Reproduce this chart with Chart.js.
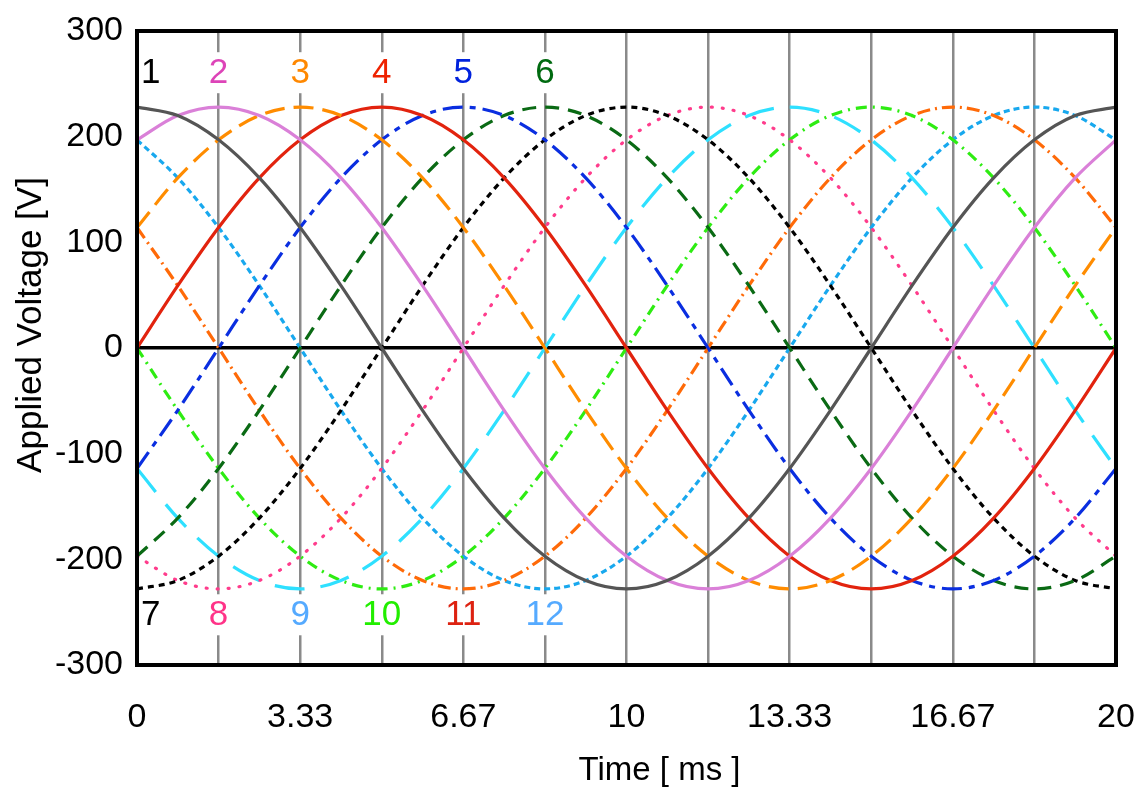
<!DOCTYPE html>
<html lang="en">
<head>
<meta charset="UTF-8">
<title>Applied Voltage - 12 phases</title>
<script src="https://cdn.jsdelivr.net/npm/chart.js@4.4.1/dist/chart.umd.min.js"></script>
<style>
    body { margin: 0; background: #fff; }
    canvas { display: block; }
</style>
</head>
<body>
<canvas id="voltChart" width="1145" height="794"></canvas>
<script>
// sample times [ms], one every 15 deg of the 20 ms cycle
const times = [0, 0.833, 1.667, 2.5, 3.333, 4.167, 5, 5.833, 6.667, 7.5, 8.333, 9.167, 10,
               10.833, 11.667, 12.5, 13.333, 14.167, 15, 15.833, 16.667, 17.5, 18.333, 19.167, 20];

// vertical grid lines and their labels
const gridTimes = [0, 1.667, 3.333, 5, 6.667, 8.333, 10, 11.667, 13.333, 15, 16.667, 18.333, 20];
const gridLabels = ['0', '', '3.33', '', '6.67', '', '10', '', '13.33', '', '16.67', '', '20'];

// voltages [V]
const phase1  = [228, 220, 197, 161, 114, 59, 0, -59, -114, -161, -197, -220, -228, -220, -197, -161, -114, -59, 0, 59, 114, 161, 197, 220, 228];
const phase2  = [197, 220, 228, 220, 197, 161, 114, 59, 0, -59, -114, -161, -197, -220, -228, -220, -197, -161, -114, -59, 0, 59, 114, 161, 197];
const phase3  = [114, 161, 197, 220, 228, 220, 197, 161, 114, 59, 0, -59, -114, -161, -197, -220, -228, -220, -197, -161, -114, -59, 0, 59, 114];
const phase4  = [0, 59, 114, 161, 197, 220, 228, 220, 197, 161, 114, 59, 0, -59, -114, -161, -197, -220, -228, -220, -197, -161, -114, -59, 0];
const phase5  = [-114, -59, 0, 59, 114, 161, 197, 220, 228, 220, 197, 161, 114, 59, 0, -59, -114, -161, -197, -220, -228, -220, -197, -161, -114];
const phase6  = [-197, -161, -114, -59, 0, 59, 114, 161, 197, 220, 228, 220, 197, 161, 114, 59, 0, -59, -114, -161, -197, -220, -228, -220, -197];
const phase7  = [-228, -220, -197, -161, -114, -59, 0, 59, 114, 161, 197, 220, 228, 220, 197, 161, 114, 59, 0, -59, -114, -161, -197, -220, -228];
const phase8  = [-197, -220, -228, -220, -197, -161, -114, -59, 0, 59, 114, 161, 197, 220, 228, 220, 197, 161, 114, 59, 0, -59, -114, -161, -197];
const phase9  = [-114, -161, -197, -220, -228, -220, -197, -161, -114, -59, 0, 59, 114, 161, 197, 220, 228, 220, 197, 161, 114, 59, 0, -59, -114];
const phase10 = [0, -59, -114, -161, -197, -220, -228, -220, -197, -161, -114, -59, 0, 59, 114, 161, 197, 220, 228, 220, 197, 161, 114, 59, 0];
const phase11 = [114, 59, 0, -59, -114, -161, -197, -220, -228, -220, -197, -161, -114, -59, 0, 59, 114, 161, 197, 220, 228, 220, 197, 161, 114];
const phase12 = [197, 161, 114, 59, 0, -59, -114, -161, -197, -220, -228, -220, -197, -161, -114, -59, 0, 59, 114, 161, 197, 220, 228, 220, 197];

// number markers: peaks (1-6) on top, troughs (7-12) at the bottom
const markerNames = ['1', '2', '3', '4', '5', '6', '7', '8', '9', '10', '11', '12'];
const markerTimes = [0, 1.667, 3.333, 5, 6.667, 8.333, 0, 1.667, 3.333, 5, 6.667, 8.333];
const markerVolts = [261, 261, 261, 261, 261, 261, -252, -252, -252, -252, -252, -252];

const xTitle = 'Time [ ms ]';
const yTitle = 'Applied Voltage [V]';

const FONT = '"Liberation Sans", Arial, sans-serif';

const allPhases = [phase1, phase2, phase3, phase4, phase5, phase6,
                   phase7, phase8, phase9, phase10, phase11, phase12];
const lineColors = ['#555555', '#da80d8', '#ff8c00', '#e2230e', '#0a2ee0', '#0a6a14',
                    '#000000', '#ff3c8c', '#2ee0ff', '#2eec12', '#ff6a08', '#18a8ee'];
const lineDashes = [[], [], [20, 9], [], [20, 7, 6, 7], [14, 9],
                    [6, 5], [1, 10], [30, 16], [11, 6, 2, 6], [13, 5, 2, 5], [6, 4]];
const markerColors = ['#000000', '#dd44b8', '#ff8800', '#ee2200', '#0022dd', '#006a10',
                      '#000000', '#ff3388', '#55aaff', '#22ee00', '#dd2211', '#55aaff'];

const datasets = allPhases.map((vals, i) => ({
    label: 'Phase ' + (i + 1),
    data: vals.map((v, k) => ({ x: times[k], y: v })),
    borderColor: lineColors[i],
    borderWidth: 3.2,
    borderDash: lineDashes[i],
    borderCapStyle: i === 7 ? 'round' : 'butt',
    pointRadius: 0,
    cubicInterpolationMode: 'monotone',
    fill: false
}));

// black frame round the plot
const framePlugin = {
    id: 'framePlugin',
    afterDatasetsDraw(chart) {
        const { ctx, chartArea: a } = chart;
        ctx.save();
        ctx.strokeStyle = '#000';
        ctx.lineWidth = 4;
        ctx.strokeRect(a.left, a.top, a.right - a.left, a.bottom - a.top);
        ctx.restore();
    }
};

// the 1..12 numbers with a white patch behind them, plus the axis titles
const markerPlugin = {
    id: 'markerPlugin',
    afterDraw(chart) {
        const { ctx, chartArea: a, scales: { x, y } } = chart;
        ctx.save();
        ctx.font = '35px ' + FONT;
        ctx.textAlign = 'center';
        ctx.textBaseline = 'middle';
        markerNames.forEach((name, i) => {
            const w = ctx.measureText(name).width;
            let px = x.getPixelForValue(markerTimes[i]);
            const py = y.getPixelForValue(markerVolts[i]);
            if (markerTimes[i] === 0) px += w / 2 + 4;
            ctx.fillStyle = '#fff';
            ctx.fillRect(px - w / 2 - 2, py - 20, w + 4, 41);
            ctx.fillStyle = markerColors[i];
            ctx.fillText(name, px, py + 1);
        });

        // axis titles (the source sets them a bit off centre)
        ctx.fillStyle = '#000';
        ctx.font = '33px ' + FONT;
        ctx.fillText(xTitle, (a.left + a.right) / 2 + 33, 771);
        ctx.translate(31, (a.top + a.bottom) / 2 - 23);
        ctx.rotate(-Math.PI / 2);
        ctx.font = '35px ' + FONT;
        ctx.fillText(yTitle, 0, 0);
        ctx.restore();
    }
};

const ctx = document.getElementById('voltChart').getContext('2d');
new Chart(ctx, {
    type: 'line',
    data: { datasets: datasets },
    options: {
        responsive: false,
        animation: false,
        layout: { padding: { top: 31, right: 29, left: 0, bottom: 0 } },
        plugins: {
            legend: { display: false },
            tooltip: { enabled: false }
        },
        scales: {
            x: {
                type: 'linear',
                min: 0,
                max: 20,
                afterBuildTicks: (scale) => {
                    scale.ticks = gridTimes.map(v => ({ value: v }));
                },
                afterFit: (scale) => {
                    scale.height = 129;
                    scale.paddingLeft = 0;
                    scale.paddingRight = 0;
                },
                grid: { color: '#8a8a8a', lineWidth: 2.5, drawTicks: false },
                border: { display: false },
                ticks: {
                    autoSkip: false,
                    maxRotation: 0,
                    padding: 32,
                    color: '#000',
                    font: { family: FONT, size: 34 },
                    callback: (val, idx) => gridLabels[idx]
                }
            },
            y: {
                min: -300,
                max: 300,
                afterFit: (scale) => {
                    scale.width = 137;
                    scale.paddingTop = 0;
                    scale.paddingBottom = 0;
                },
                grid: {
                    drawTicks: false,
                    lineWidth: 3.5,
                    color: (c) => (c.tick && c.tick.value === 0 ? '#000' : 'rgba(0,0,0,0)')
                },
                border: { display: false },
                ticks: {
                    stepSize: 100,
                    padding: 14,
                    color: '#000',
                    font: { family: FONT, size: 34 }
                }
            }
        }
    },
    plugins: [framePlugin, markerPlugin]
});
</script>
</body>
</html>
